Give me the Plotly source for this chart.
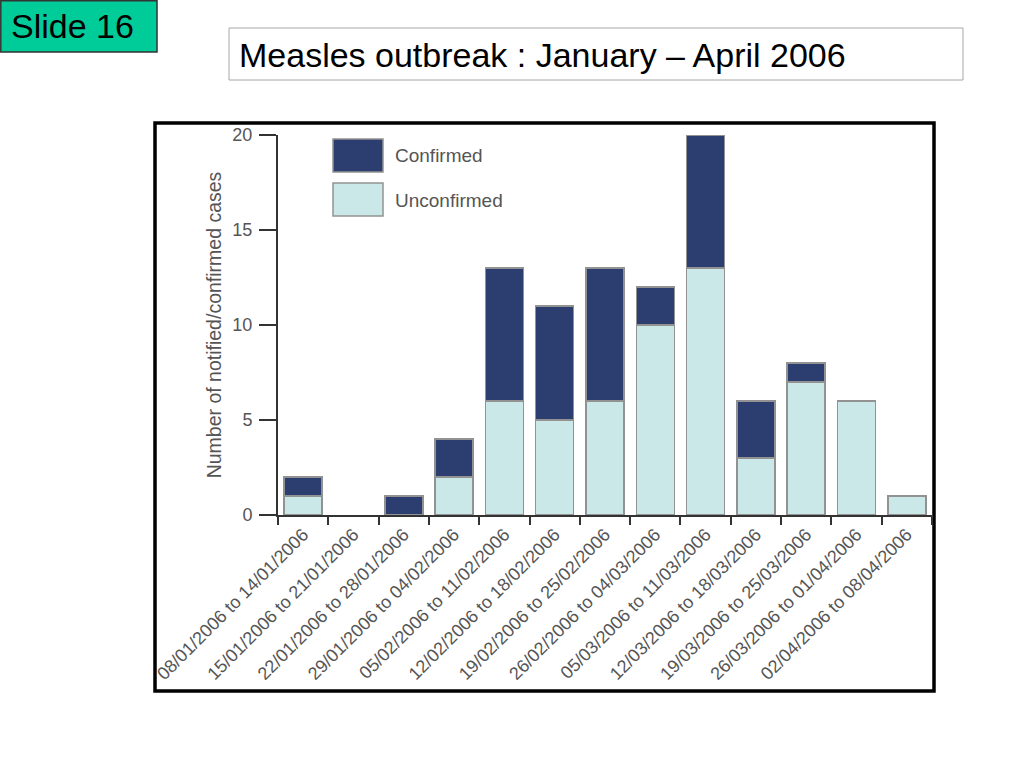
import plotly.graph_objects as go

weeks = [
    "08/01/2006 to 14/01/2006",
    "15/01/2006 to 21/01/2006",
    "22/01/2006 to 28/01/2006",
    "29/01/2006 to 04/02/2006",
    "05/02/2006 to 11/02/2006",
    "12/02/2006 to 18/02/2006",
    "19/02/2006 to 25/02/2006",
    "26/02/2006 to 04/03/2006",
    "05/03/2006 to 11/03/2006",
    "12/03/2006 to 18/03/2006",
    "19/03/2006 to 25/03/2006",
    "26/03/2006 to 01/04/2006",
    "02/04/2006 to 08/04/2006",
]
unconfirmed = [1, 0, 0, 2, 6, 5, 6, 10, 13, 3, 7, 6, 1]
confirmed = [1, 0, 1, 2, 7, 6, 7, 2, 7, 3, 1, 0, 0]
y_ticks = [0, 5, 10, 15, 20]

title_text = "Measles outbreak : January \u2013 April 2006"
slide_text = "Slide 16"
legend_names = ["Confirmed", "Unconfirmed"]

C_CONF = "#2B3E6F"
C_UNCONF = "#CAE8E8"
EDGE = "#929292"
TXT = "#555555"
FONT = "Liberation Sans, Arial, sans-serif"

# plot area in pixels
X0, X1, YT, YB = 278, 932, 135, 515
W, H = X1 - X0, YB - YT


def px(x):
    return (x - X0) / W


def py(y):
    return (YB - y) / H


def edge_widths(vals):
    return [1.5 if v > 0 else 0 for v in vals]


fig = go.Figure()
fig.add_trace(go.Bar(x=weeks, y=unconfirmed, name=legend_names[1],
                     marker=dict(color=C_UNCONF,
                                 line=dict(color=EDGE, width=edge_widths(unconfirmed)))))
fig.add_trace(go.Bar(x=weeks, y=confirmed, name=legend_names[0],
                     marker=dict(color=C_CONF,
                                 line=dict(color=EDGE, width=edge_widths(confirmed)))))

shapes = []
annotations = []

# outer frame
shapes.append(dict(type="rect", xref="paper", yref="paper",
                   x0=px(155), x1=px(934), y0=py(691), y1=py(123),
                   line=dict(color="black", width=3.5), fillcolor="rgba(0,0,0,0)", layer="below"))
# slide label box
shapes.append(dict(type="rect", xref="paper", yref="paper",
                   x0=px(0.8), x1=px(157), y0=py(52), y1=py(0.8),
                   line=dict(color="#333333", width=1.5), fillcolor="#00CC99", layer="below"))
annotations.append(dict(xref="paper", yref="paper", x=px(9), y=py(26),
                        xanchor="left", yanchor="middle", showarrow=False,
                        text=slide_text, font=dict(family=FONT, size=34, color="black")))
# title box
shapes.append(dict(type="rect", xref="paper", yref="paper",
                   x0=px(229), x1=px(963), y0=py(80), y1=py(28),
                   line=dict(color="#A6A6A6", width=1), fillcolor="white", layer="below"))
annotations.append(dict(xref="paper", yref="paper", x=px(237), y=py(55),
                        xanchor="left", yanchor="middle", showarrow=False,
                        text=title_text, font=dict(family=FONT, size=34, color="black")))

# legend (manual, large swatches)
for i, (nm, col) in enumerate(zip(legend_names, [C_CONF, C_UNCONF])):
    top = 139 + i * 44
    shapes.append(dict(type="rect", xref="paper", yref="paper",
                       x0=px(333), x1=px(383), y0=py(top + 33), y1=py(top),
                       line=dict(color=EDGE, width=1.5), fillcolor=col))
    annotations.append(dict(xref="paper", yref="paper", x=px(393), y=py(top + 17),
                            xanchor="left", yanchor="middle", showarrow=False,
                            text=nm, font=dict(family=FONT, size=19, color=TXT)))

fig.update_layout(
    width=1024, height=768,
    margin=dict(l=X0, r=1024 - X1, t=YT, b=768 - YB, autoexpand=False),
    barmode="stack", bargap=0.245,
    showlegend=False,
    paper_bgcolor="white", plot_bgcolor="white",
    font=dict(family=FONT, color=TXT, size=18),
    shapes=shapes, annotations=annotations,
    xaxis=dict(
        type="category", range=[-0.5, len(weeks) - 0.5],
        showline=True, linecolor="#333333", linewidth=2,
        ticks="outside", tickson="boundaries", ticklen=8, tickwidth=2, tickcolor="#333333",
        tickangle=-45, tickfont=dict(family=FONT, size=18, color=TXT),
        showgrid=False, zeroline=False,
    ),
    yaxis=dict(
        range=[0, 20], tickvals=y_ticks,
        showline=True, linecolor="#333333", linewidth=2,
        ticks="outside", ticklen=17, tickwidth=2, tickcolor="#333333",
        ticklabelstandoff=3,
        tickfont=dict(family=FONT, size=18, color=TXT),
        showgrid=False, zeroline=False,
        title=dict(text="Number of notified/confirmed cases",
                   font=dict(family=FONT, size=19.5, color=TXT), standoff=6),
    ),
)

fig.write_html("out.html", config={"displayModeBar": False},
               post_script="document.body.style.margin='0';")
